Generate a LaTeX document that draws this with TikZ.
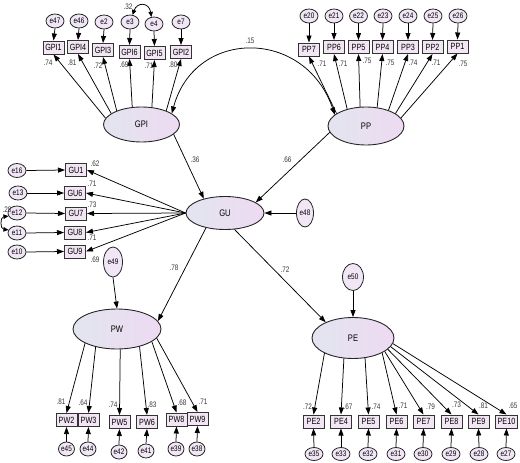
\documentclass[tikz,border=0pt]{standalone}
\usepackage{fontspec}
\setmainfont{Liberation Sans}[FakeStretch=0.8]
\usetikzlibrary{shapes.geometric,arrows.meta}
\definecolor{latL}{HTML}{E2E5EF}
\definecolor{latR}{HTML}{EEDAF2}
\definecolor{boxF}{HTML}{F2E6F4}
\definecolor{errF}{HTML}{F1E6F5}
\definecolor{lblC}{HTML}{383838}
\begin{document}
\begin{tikzpicture}[x=1pt,y=-1pt,
  lat/.style={ellipse, draw=black!85, line width=0.9pt, left color=latL, right color=latR, inner sep=0pt, font=\fontsize{9.5}{9.5}\selectfont},
  obs/.style={rectangle, draw=black!80, line width=1pt, fill=boxF, minimum width=21pt, minimum height=13pt, inner sep=0pt, font=\fontsize{9}{9}\selectfont},
  err/.style={ellipse, draw=black!85, line width=0.8pt, fill=errF, minimum width=18pt, minimum height=14pt, inner sep=0pt, font=\fontsize{8}{8}\selectfont},
  arr/.style={-{Triangle[length=7pt,width=5pt]}, line width=0.75pt, black},
  cov/.style={{Triangle[length=7pt,width=5pt]}-{Triangle[length=7pt,width=5pt]}, line width=0.75pt, black},
  covs/.style={{Triangle[length=5pt,width=4.5pt]}-{Triangle[length=5pt,width=4.5pt]}, line width=0.75pt, black},
  lbl/.style={inner sep=0pt, text=lblC, font=\fontsize{8}{8}\selectfont}]
\useasboundingbox (0,0) rectangle (520,463);

% latent variables
\node[lat, minimum width=76pt, minimum height=35pt] (GPI) at (141.5,124.5) {GPI};
\node[lat, minimum width=76pt, minimum height=38pt] (PP) at (366,126) {PP};
\node[lat, minimum width=78pt, minimum height=33pt] (GU) at (225,213) {GU};
\node[lat, minimum width=88pt, minimum height=40pt] (PW) at (117,329) {PW};
\node[lat, minimum width=82pt, minimum height=41pt] (PE) at (353,338) {PE};

% disturbances
\node[err, minimum width=17pt, minimum height=28pt] (e48) at (305,213) {e48};
\node[err, minimum width=19pt, minimum height=30pt] (e49) at (113,262) {e49};
\node[err, minimum width=21pt, minimum height=27pt] (e50) at (353,277) {e50};

% GPI indicators
\node[obs] (GPI1) at (53.5,47.5) {GPI1};
\node[obs] (GPI4) at (78,47) {GPI4};
\node[obs] (GPI3) at (103,50) {GPI3};
\node[obs] (GPI6) at (129.5,52) {GPI6};
\node[obs] (GPI5) at (154.5,53) {GPI5};
\node[obs] (GPI2) at (181,52) {GPI2};
\node[err] (e47) at (55,21) {e47};
\node[err] (e46) at (79,21) {e46};
\node[err] (e2) at (104,22) {e2};
\node[err] (e3) at (130,22) {e3};
\node[err] (e4) at (154,24) {e4};
\node[err] (e7) at (181,22) {e7};

% PP indicators
\node[obs] (PP7) at (309,49.5) {PP7};
\node[obs] (PP6) at (334,47) {PP6};
\node[obs] (PP5) at (358.5,47) {PP5};
\node[obs] (PP4) at (382.5,47) {PP4};
\node[obs] (PP3) at (408,47) {PP3};
\node[obs] (PP2) at (432.5,47) {PP2};
\node[obs] (PP1) at (457.5,46.5) {PP1};
\node[err] (e20) at (309,16) {e20};
\node[err] (e21) at (334,16) {e21};
\node[err] (e22) at (358.5,16) {e22};
\node[err] (e23) at (383,16) {e23};
\node[err] (e24) at (408,16) {e24};
\node[err] (e25) at (433,16) {e25};
\node[err] (e26) at (458,16) {e26};

% GU indicators
\node[obs] (GU1) at (76,170) {GU1};
\node[obs] (GU6) at (75,193) {GU6};
\node[obs] (GU7) at (76,213.5) {GU7};
\node[obs] (GU8) at (75,232.5) {GU8};
\node[obs] (GU9) at (75,251.5) {GU9};
\node[err] (e16) at (17,170.5) {e16};
\node[err] (e13) at (18,193) {e13};
\node[err] (e12) at (17,213) {e12};
\node[err] (e11) at (17,233) {e11};
\node[err] (e10) at (17,252) {e10};

% PW indicators
\node[obs] (PW2) at (66.5,420) {PW2};
\node[obs] (PW3) at (88.5,420) {PW3};
\node[obs] (PW5) at (119.5,422) {PW5};
\node[obs] (PW6) at (147,422) {PW6};
\node[obs] (PW8) at (176.5,419.5) {PW8};
\node[obs] (PW9) at (197.5,419) {PW9};
\node[err, minimum width=16pt] (e45) at (66.5,449) {e45};
\node[err, minimum width=16pt] (e44) at (88,449) {e44};
\node[err, minimum width=16pt] (e42) at (119,452) {e42};
\node[err, minimum width=16pt] (e41) at (146,451) {e41};
\node[err, minimum width=16pt] (e39) at (176,449) {e39};
\node[err, minimum width=16pt] (e38) at (197,449) {e38};

% PE indicators
\node[obs] (PE2) at (313.5,421.5) {PE2};
\node[obs] (PE4) at (341,421.5) {PE4};
\node[obs] (PE5) at (368.5,421.5) {PE5};
\node[obs] (PE6) at (396.5,421.5) {PE6};
\node[obs] (PE7) at (423.5,421.5) {PE7};
\node[obs] (PE8) at (451.5,421.5) {PE8};
\node[obs] (PE9) at (478.5,421.5) {PE9};
\node[obs, minimum width=22pt] (PE10) at (506.5,421.5) {PE10};
\node[err, minimum height=13pt] (e35) at (314,454) {e35};
\node[err, minimum height=13pt] (e33) at (341,454) {e33};
\node[err, minimum height=13pt] (e32) at (368,454) {e32};
\node[err, minimum height=13pt] (e31) at (396,454) {e31};
\node[err, minimum height=13pt] (e30) at (423,454) {e30};
\node[err, minimum height=13pt] (e29) at (451,454) {e29};
\node[err, minimum height=13pt] (e28) at (479,454) {e28};
\node[err, minimum height=13pt] (e27) at (506,454) {e27};

% error -> indicator arrows
\foreach \e/\o in {e47/GPI1,e46/GPI4,e2/GPI3,e3/GPI6,e4/GPI5,e7/GPI2,
  e20/PP7,e21/PP6,e22/PP5,e23/PP4,e24/PP3,e25/PP2,e26/PP1}
  \draw[arr] (\e.south) -- (\o.north);
\foreach \e/\o in {e16/GU1,e13/GU6,e12/GU7,e11/GU8,e10/GU9}
  \draw[arr] (\e.east) -- (\o.west);
\foreach \e/\o in {e45/PW2,e44/PW3,e42/PW5,e41/PW6,e39/PW8,e38/PW9,
  e35/PE2,e33/PE4,e32/PE5,e31/PE6,e30/PE7,e29/PE8,e28/PE9,e27/PE10}
  \draw[arr] (\e.north) -- (\o.south);

% loadings
\foreach \a/\o in {170/GPI1,160/GPI4,151/GPI3,118/GPI6,59/GPI5,29/GPI2}
  \draw[arr] (GPI.\a) -- (\o.south);
\foreach \a/\o in {157/PP7,138/PP6,107/PP5,59/PP4,35/PP3,23/PP2,13/PP1}
  \draw[arr] (PP.\a) -- (\o.south);
\foreach \o in {GU1,GU6,GU7,GU8,GU9}
  \draw[arr] (GU.west) -- (\o.east);
\foreach \a/\o in {204/PW2,220/PW3,279/PW5,322/PW6,340/PW8,347/PW9}
  \draw[arr] (PW.\a) -- (\o.north);
\foreach \a/\o in {208/PE2,246/PE4,301/PE5,333/PE6,337/PE7,342/PE8,347/PE9,352/PE10}
  \draw[arr] (PE.\a) -- (\o.north);

% structural paths
\draw[arr] (GPI.343) -- (GU.146);
\draw[arr] (PP.190) -- (GU.19);
\draw[arr] (e48.west) -- (GU.east);
\draw[arr] (GU.218) -- (PW.11);
\draw[arr] (GU.300) -- (PE.150);
\draw[arr] (e49.south) -- (PW.north);
\draw[arr] (e50.south) -- (PE.north);

% covariances
\draw[cov] (GPI.20) .. controls (195,28) and (305,28) .. (PP.160);
\draw[covs] (e3.70) .. controls (137,2) and (149,2) .. (e4.110);
\draw[covs] (e12.200) .. controls (0,217) and (0,229) .. (e11.160);

% labels
\foreach \t/\x/\y in {.74/48/63,.81/72/63,.72/98/66,.69/124/65,.71/149/66,.80/173/65,
  .32/128/7,
  .71/322/64,.71/343/64,.75/367/61,.75/390/63,.74/413/63,.71/436/63,.75/463/64,
  .15/250/41,
  .62/95/164,.71/92/184,.73/92/205,.71/92/238,.69/95/260,.28/7/210,
  .36/195/160,.66/287/160,.78/174/268,.72/285/270,
  .81/61/402,.64/83/403,.74/113/405,.83/152/405,.68/182/403,.71/203/402,
  .72/307.5/407,.67/348/407,.74/376/407,.71/403/406,.79/430.5/407,.73/456.5/405,.81/483.5/406,.65/513/406}
  \node[lbl] at (\x,\y) {\t};
\end{tikzpicture}
\end{document}
